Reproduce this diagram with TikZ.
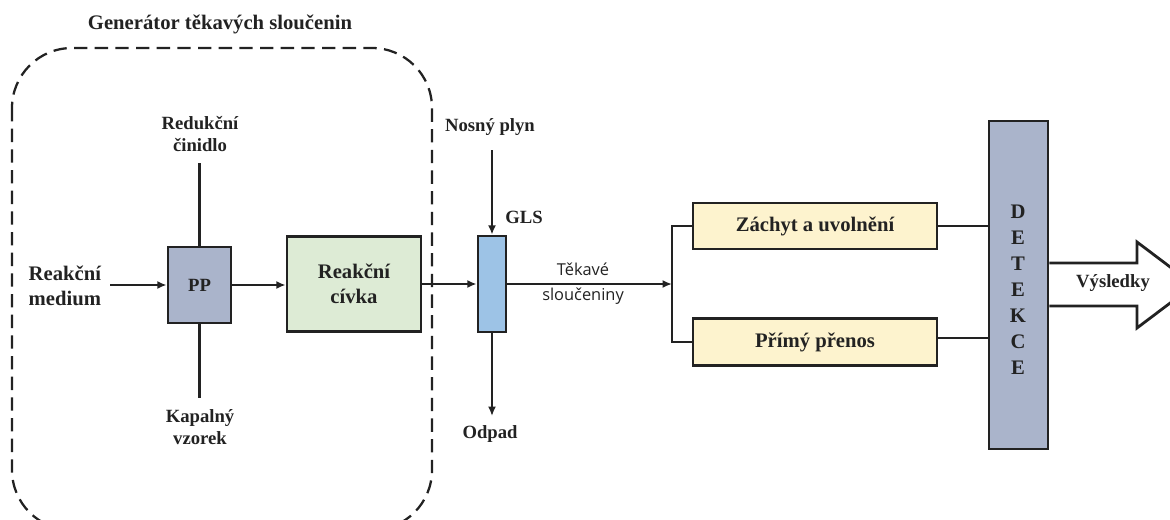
\documentclass[tikz,border=0pt]{standalone}
\usepackage{fontspec}
\setmainfont{Liberation Serif}
\newfontfamily\sansf{Open Sans}
\usetikzlibrary{arrows.meta}
\definecolor{ppgray}{HTML}{AAB4CB}
\definecolor{coilgreen}{HTML}{DDEBD5}
\definecolor{glsblue}{HTML}{9DC3E6}
\definecolor{boxyellow}{HTML}{FDF3CE}
\definecolor{ink}{HTML}{222222}
\begin{document}
\begin{tikzpicture}[x=0.75pt,y=-0.75pt,
  box/.style={draw=ink,line width=2.1pt,inner sep=0pt},
  conn/.style={draw=ink,line width=1.9pt},
  arr/.style={conn,-{Latex[length=7pt,width=6pt]}},
  bigtxt/.style={font=\bfseries\fontsize{15.5}{19}\selectfont,text=ink},
  medtxt/.style={font=\bfseries\fontsize{14}{16}\selectfont,text=ink,align=center},
  sanstxt/.style={font=\sansf\fontsize{12.3}{19}\selectfont,text=ink,align=center},
  genbox/.style={draw=ink,line width=1.7pt,dash pattern=on 10pt off 5.5pt,rounded corners=45pt}
]
\useasboundingbox (0,0) rectangle (1170,519);
% generator frame
\node[bigtxt] (title) at (220,24) {Generátor těkavých sloučenin};
\draw[genbox] (12,48) rectangle (432,530);
% PP
\node[box,minimum height=76*0.75pt,minimum width=63*0.75pt,fill=ppgray,medtxt] (pp) at (199.5,285) {PP};
\node[medtxt] (red) at (200,134) {Redukční\\činidlo};
\coordinate (redend) at (199.5,163);
\node[medtxt] (kap) at (200,427) {Kapalný\\vzorek};
\coordinate (kapend) at (199.5,398);
\node[bigtxt,anchor=west,align=left] (med) at (24,286) {Reakční\\medium};
\coordinate (medend) at (110,285);
\draw[conn] (redend) -- (pp.north);
\draw[conn] (pp.south) -- (kapend);
\draw[arr] (medend) -- (pp.west);
% reaction coil
\node[box,minimum width=134*0.75pt,minimum height=95*0.75pt,fill=coilgreen,bigtxt,align=center] (coil) at (354,284) {Reakční\\cívka};
\draw[arr] (pp.east) -- (pp.east -| coil.west);
% GLS
\node[box,minimum width=28*0.75pt,minimum height=96*0.75pt,fill=glsblue] (gls) at (492,284) {};
\node[medtxt] (glslab) at (524,217) {GLS};
\node[medtxt] (nos) at (490,127) {Nosný plyn};
\coordinate (nosend) at (492,150);
\node[medtxt] (odp) at (490,434) {Odpad};
\coordinate (odpend) at (492,416);
\draw[arr] (nosend) -- (gls.north);
\draw[arr] (gls.south) -- (odpend);
\draw[arr] (coil.east |- gls.west) -- (gls.west);
% volatile compounds
\coordinate (br) at (672,284);
\node[sanstxt] (tek) at (583,284) {Těkavé\\sloučeniny};
\draw[arr] (gls.east) -- (br);
% two paths
\node[box,minimum width=244*0.75pt,minimum height=46*0.75pt,fill=boxyellow,bigtxt] (zach) at (815,226) {Záchyt a uvolnění};
\node[box,minimum width=244*0.75pt,minimum height=47*0.75pt,fill=boxyellow,bigtxt] (prim) at (815,342) {Přímý přenos};
\draw[conn] (br) |- (zach.west);
\draw[conn] (br) |- (prim.west);
% detection
\node[box,minimum width=59*0.75pt,minimum height=328*0.75pt,fill=ppgray] (det) at (1018.5,285) {};
\node[font=\bfseries\fontsize{15.5}{19.5}\selectfont,text=ink,align=center] (detlab) at (1018,290) {D\\E\\T\\E\\K\\C\\E};
\draw[conn] (zach.east) -- (zach.east -| det.west);
\draw[conn] (prim.east |- 0,338) -- (det.west |- 0,338);
% result arrow
\draw[ink,line width=2.1pt,fill=white] (det.east |- 0,263) -- (1137,263) -- (1137,242) -- (1194,285) -- (1137,328) -- (1137,306) -- (det.east |- 0,306);
\node[medtxt] (res) at (1113,283) {Výsledky};
\end{tikzpicture}
\end{document}
